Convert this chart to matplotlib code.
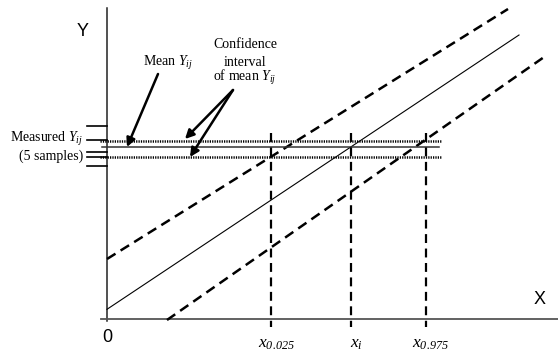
import matplotlib.pyplot as plt

# all math in this figure is italic, digits included
plt.rcParams['mathtext.fontset'] = 'custom'
plt.rcParams['mathtext.rm'] = 'Liberation Serif:italic'
plt.rcParams['mathtext.it'] = 'Liberation Serif:italic'

# line endpoints (x, y) in plot units, origin at the axes crossing
fit_x = [0, 412]
fit_y = [9.7, 284]
upper_x = [0, 401]
upper_y = [60, 310]
lower_x = [60, 440]
lower_y = [-1, 264]

# measured samples and their mean / confidence interval
samples = [193, 179.5, 167.3, 162.5, 153]
mean_y = 171.7
ci_low = 162.3
ci_high = 178.3

# x positions where the levels hit the lines
x_pos = [164, 244, 318.7]
x_labels = [r'$x_{0.025}$', r'$x_{i}$', r'$x_{0.975}$']

fig = plt.figure(figsize=(5.58, 3.52), dpi=100)
ax = fig.add_axes([0, 0, 1, 1])
ax.set_xlim(-107, 451)
ax.set_ylim(-33, 319)
ax.axis('off')

# axes
ax.plot([0, 0], [-2, 311], color='#222222', lw=1.1)
ax.plot([-6, 451], [0, 0], color='#555555', lw=1.3)

# regression line and confidence bands
ax.plot(fit_x, fit_y, color='black', lw=0.8)
ax.plot(upper_x, upper_y, color='black', lw=1.8, dashes=(4, 2.4))
ax.plot(lower_x, lower_y, color='black', lw=1.8, dashes=(4, 2.4))

# samples on the y axis
for s in samples:
    ax.plot([-20, 0], [s, s], color='black', lw=1.2)

ax.plot([-5, 332], [mean_y, mean_y], color='#333333', lw=1.1)
ax.plot([-7, 335], [ci_high, ci_high], color='black', lw=1.8, dashes=(0.5, 0.45))
ax.plot([-7, 335], [ci_low, ci_low], color='black', lw=1.8, dashes=(0.5, 0.45))

# vertical dashed lines down to the x axis
for xp, lab in zip(x_pos, x_labels):
    ax.plot([xp, xp], [186, -8], color='black', lw=1.6, dashes=(4, 2.5))
    ax.text(xp + 5, -24, lab, fontsize=12.5, ha='center', va='center')

ax.text(-24, 287, 'Y', fontsize=13, family='Liberation Sans', ha='center', va='center')
ax.text(433, 20, 'X', fontsize=13, family='Liberation Sans', ha='center', va='center')
ax.text(0, -18, '0', fontsize=13, family='Liberation Sans', ha='center', va='center')

serif = dict(fontsize=10, family='Liberation Serif', va='center')
ax.text(-24, 180, r'Measured $Y_{ij}$', ha='right', **serif)
ax.text(-24, 163, '(5 samples)', ha='right', **serif)

ax.text(61, 256, r'Mean $Y_{ij}$', ha='center', **serif)
ax.text(138, 275, 'Confidence', ha='center', **serif)
ax.text(138, 257, 'interval', ha='center', **serif)
ax.text(138, 241.5, r'of mean $Y_{ij}$', ha='center', **serif)

arrow = dict(arrowstyle='-|>', lw=1.8, color='black', mutation_scale=13,
             shrinkA=0, shrinkB=0)
ax.annotate('', xy=(20, 172), xytext=(51, 245), arrowprops=arrow)
ax.annotate('', xy=(78, 180), xytext=(126, 229), arrowprops=arrow)
ax.annotate('', xy=(83, 162), xytext=(126, 229), arrowprops=arrow)

fig.savefig('out.png', dpi=100)
